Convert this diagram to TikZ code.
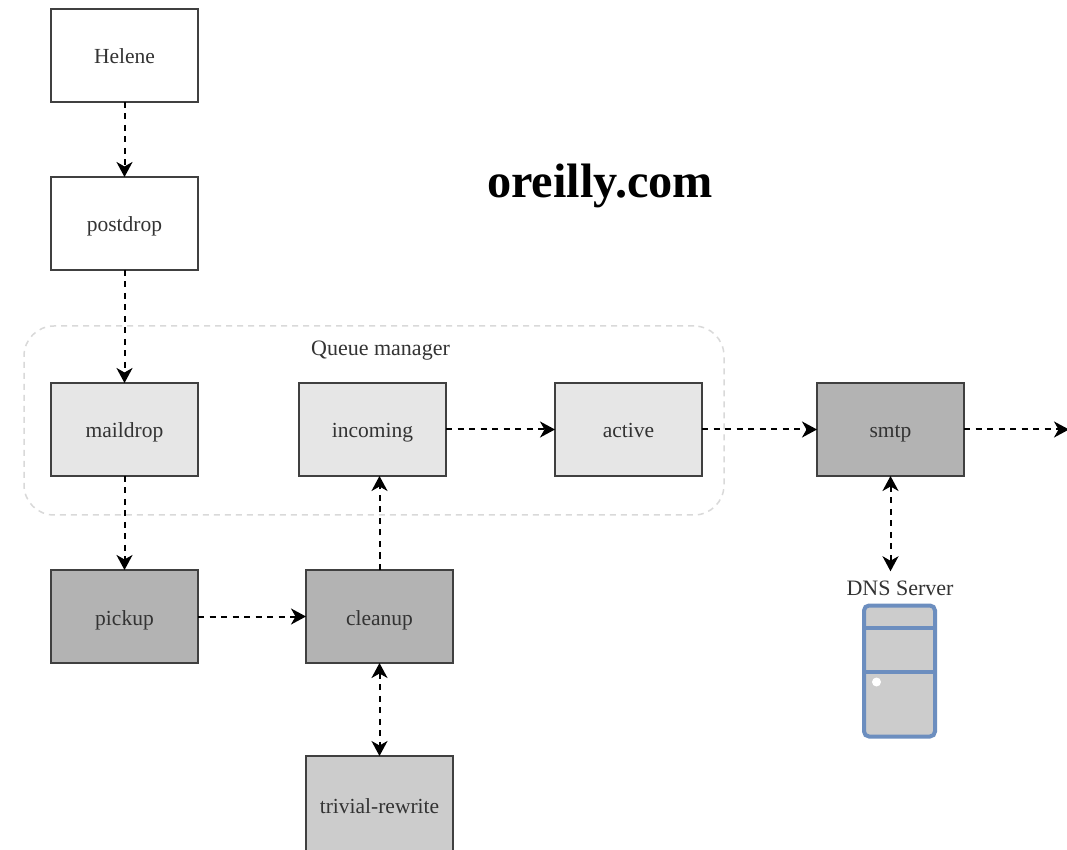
\documentclass[tikz,border=0pt]{standalone}
\usepackage{fontspec}
\setmainfont{Liberation Serif}
\usetikzlibrary{calc,arrows.meta,positioning}
\definecolor{lightbox}{HTML}{E6E6E6}
\definecolor{darkbox}{HTML}{B3B3B3}
\definecolor{midbox}{HTML}{CCCCCC}
\definecolor{serverblue}{HTML}{6C8EBF}
\tikzset{
    every node/.append style={font=\fontsize{22}{26}\selectfont, text=black!80, outer sep=0pt},
    proc/.style={draw=black!75, line width=2pt, minimum width=147pt, minimum height=93pt, inner sep=0pt, text height=20pt, text depth=3pt, font=\fontsize{21.5}{26}\selectfont},
    flow/.style={draw=black, line width=2pt, dash pattern=on 6pt off 5.5pt},
    queuegroup/.style={draw=black!15, line width=1.5pt, dash pattern=on 6pt off 5pt, rounded corners=30pt, minimum width=700pt, minimum height=189pt},
    serverline/.style={draw=serverblue, line width=4pt}}

\begin{document}
\begin{tikzpicture}[x=1pt,y=1pt,>={Stealth[length=15pt,width=16pt,inset=4.5pt]}]
    \useasboundingbox (0,0) rectangle (1067,849);
    \clip (0,0) rectangle (1067,849);
    \fill[white] (0,0) rectangle (1067,849);

    % left column
    \node[proc, fill=white] (helene) at (124.5,793.5) {Helene};
    \node[proc, fill=white, below=75pt of helene] (postdrop) {postdrop};
    \node[proc, fill=lightbox, below=113pt of postdrop] (maildrop) {maildrop};
    \node[proc, fill=darkbox, below=94pt of maildrop] (pickup) {pickup};

    % queue row
    \node[proc, fill=lightbox, right=101pt of maildrop] (incoming) {incoming};
    \node[proc, fill=lightbox, right=109pt of incoming] (active) {active};
    \node[proc, fill=darkbox, right=115pt of active] (smtp) {smtp};
    \coordinate (out) at (1069,419.5);

    \node[proc, fill=darkbox, right=108pt of pickup] (cleanup) {cleanup};
    \node[proc, fill=midbox, minimum height=98pt, below=93pt of cleanup] (rewrite) {trivial-rewrite};

    \node[queuegroup] (queue) at (374,428.5) {};
    \node (queuelabel) at (380.5,498) {Queue manager};

    \node (dnslabel) at (900,261) {DNS Server};
    \node[minimum width=71pt, minimum height=131pt, rounded corners=5pt, draw=serverblue, fill=midbox, line width=4pt] (server) at (899.5,178) {};
    \draw[serverline] ($(server.north west)+(0,-22)$) -- ($(server.north east)+(0,-22)$);
    \draw[serverline] ($(server.north west)+(0,-66)$) -- ($(server.north east)+(0,-66)$);
    \node[circle, fill=white, minimum size=9pt, inner sep=0pt] (serverdot) at (876.5,167) {};

    \node[font=\fontsize{48.3}{56}\selectfont\bfseries, text=black] (site) at (600,663) {oreilly.com};

    \path[->, every edge/.append style={flow}]
    (helene) edge (postdrop)
    (postdrop) edge (maildrop)
    (maildrop) edge (pickup)
    (pickup) edge (cleanup)
    (incoming) edge (active)
    (active) edge (smtp)
    (smtp) edge (out)
    (cleanup.north) edge (cleanup.north |- incoming.south);
    \path[<->, every edge/.append style={flow}]
    (cleanup) edge (rewrite)
    (smtp.south) edge[shorten >=6pt] (smtp.south |- dnslabel.north);
\end{tikzpicture}
\end{document}
